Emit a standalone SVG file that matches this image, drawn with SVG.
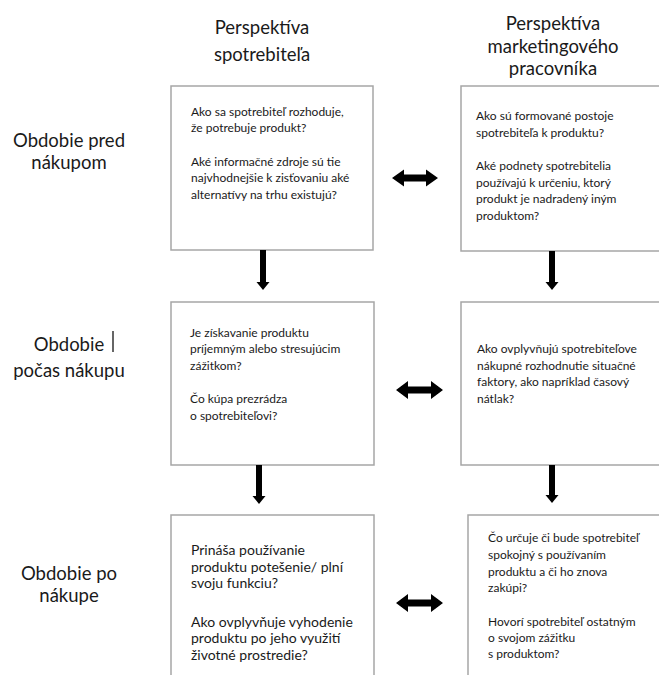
<svg xmlns="http://www.w3.org/2000/svg" width="659" height="675" viewBox="0 0 659 675">
<style>
.bg{fill:#ffffff}
.box{fill:#ffffff;stroke:#a6a6a6;stroke-width:1.5}
.hd{font-family:Lato,"Liberation Sans",sans-serif;font-size:18.5px;fill:#1a1a1a;text-anchor:middle}
.t{font-family:Lato,"Liberation Sans",sans-serif;font-size:12px;fill:#1a1a1a}
.tb{font-family:Lato,"Liberation Sans",sans-serif;font-size:14px;fill:#1a1a1a}
.arr{fill:#000000}
</style>
<rect class="bg" x="0" y="0" width="659" height="675"/>
<g id="header-consumer"><text class="hd" x="262" y="34">Perspektíva</text><text class="hd" x="262" y="61">spotrebiteľa</text></g>
<g id="header-marketer"><text class="hd" x="553" y="30">Perspektíva</text><text class="hd" x="553" y="53">marketingového</text><text class="hd" x="553" y="75">pracovníka</text></g>
<g id="label-pre"><text class="hd" x="69" y="147">Obdobie pred</text><text class="hd" x="69" y="169">nákupom</text></g>
<g id="label-during"><text class="hd" x="69" y="351">Obdobie</text><line x1="113" y1="331" x2="113" y2="352" stroke="#333" stroke-width="1.5"/><text class="hd" x="69" y="377">počas nákupu</text></g>
<g id="label-post"><text class="hd" x="69" y="580">Obdobie po</text><text class="hd" x="69" y="602">nákupe</text></g>
<g id="box-c1"><rect class="box" x="171" y="86" width="202" height="164"/>
<text class="t" x="191" y="116">Ako sa spotrebiteľ rozhoduje,</text>
<text class="t" x="191" y="132">že potrebuje produkt?</text>
<text class="t" x="191" y="166">Aké informačné zdroje sú tie</text>
<text class="t" x="191" y="182">najvhodnejšie k zisťovaniu aké</text>
<text class="t" x="191" y="199">alternatívy na trhu existujú?</text></g>
<g id="box-m1"><rect class="box" x="461" y="86" width="210" height="165"/>
<text class="t" x="476" y="120">Ako sú formované postoje</text>
<text class="t" x="476" y="137">spotrebiteľa k produktu?</text>
<text class="t" x="476" y="170">Aké podnety spotrebitelia</text>
<text class="t" x="476" y="187">používajú k určeniu, ktorý</text>
<text class="t" x="476" y="203">produkt je nadradený iným</text>
<text class="t" x="476" y="220">produktom?</text></g>
<g id="box-c2"><rect class="box" x="171" y="302" width="203" height="163"/>
<text class="t" x="190" y="337">Je získavanie produktu</text>
<text class="t" x="190" y="353">príjemným alebo stresujúcim</text>
<text class="t" x="190" y="370">zážitkom?</text>
<text class="t" x="190" y="403">Čo kúpa prezrádza</text>
<text class="t" x="190" y="420">o spotrebiteľovi?</text></g>
<g id="box-m2"><rect class="box" x="461" y="302" width="210" height="163"/>
<text class="t" x="477" y="353">Ako ovplyvňujú spotrebiteľove</text>
<text class="t" x="477" y="370">nákupné rozhodnutie situačné</text>
<text class="t" x="477" y="386">faktory, ako napríklad časový</text>
<text class="t" x="477" y="403">nátlak?</text></g>
<g id="box-c3"><rect class="box" x="171" y="515" width="203" height="180"/>
<text class="tb" x="191" y="555">Prináša používanie</text>
<text class="tb" x="191" y="572">produktu potešenie/ plní</text>
<text class="tb" x="191" y="588">svoju funkciu?</text>
<text class="tb" x="191" y="627">Ako ovplyvňuje vyhodenie</text>
<text class="tb" x="191" y="643">produktu po jeho využití</text>
<text class="tb" x="191" y="660">životné prostredie?</text></g>
<g id="box-m3"><rect class="box" x="468" y="515" width="210" height="180"/>
<text class="t" x="488" y="542">Čo určuje či bude spotrebiteľ</text>
<text class="t" x="488" y="559">spokojný s používaním</text>
<text class="t" x="488" y="576">produktu a či ho znova</text>
<text class="t" x="488" y="592">zakúpi?</text>
<text class="t" x="488" y="626">Hovorí spotrebiteľ ostatným</text>
<text class="t" x="488" y="642">o svojom zážitku</text>
<text class="t" x="488" y="658">s produktom?</text></g>
<g id="connectors">
<polygon class="arr" points="260,250 266,250 266,282 269.5,282 263,290 256.5,282 260,282"/>
<polygon class="arr" points="549,251 555,251 555,282 558.5,282 552,290 545.5,282 549,282"/>
<polygon class="arr" points="256,465 262,465 262,496 265.5,496 259,504 252.5,496 256,496"/>
<polygon class="arr" points="549,465 555,465 555,495 558.5,495 552,503 545.5,495 549,495"/>
<polygon class="arr" points="392,178 404,169.5 404,174.5 426,174.5 426,169.5 438,178 426,186.5 426,181.5 404,181.5 404,186.5"/>
<polygon class="arr" points="396,390 408,381 408,386.5 431,386.5 431,381 443,390 431,399 431,393.5 408,393.5 408,399"/>
<polygon class="arr" points="396,603 408,594 408,599.5 431,599.5 431,594 443,603 431,612 431,606.5 408,606.5 408,612"/>
</g>
</svg>
